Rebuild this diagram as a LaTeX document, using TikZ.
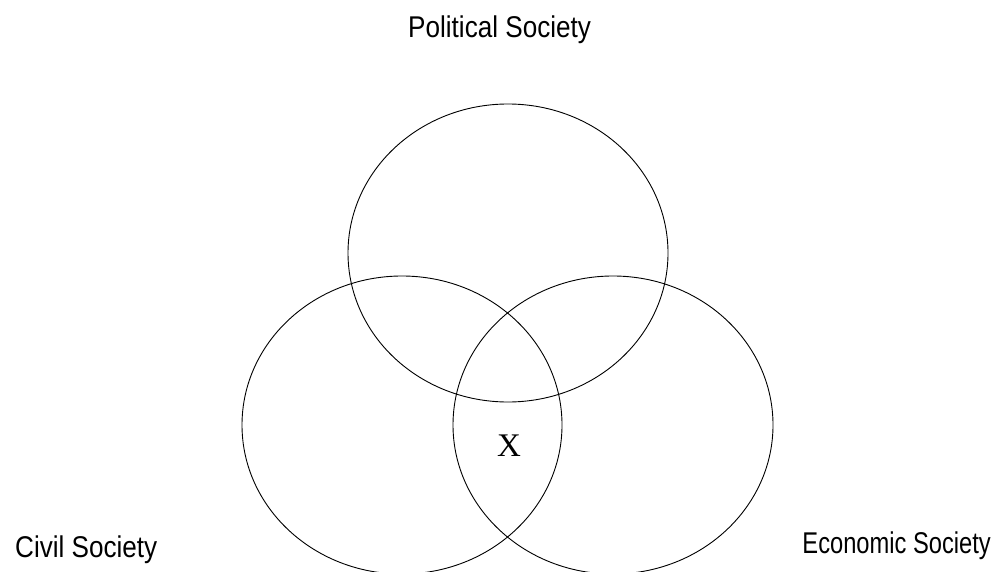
\documentclass[tikz,border=0pt]{standalone}
\usepackage{fontspec}
\setmainfont{Liberation Sans}
\newfontfamily\timesx{Liberation Serif}
\usetikzlibrary{positioning}

\newcommand{\narrow}[1]{\scalebox{0.87}[1]{#1}}
\tikzset{
  label text/.style={anchor=base west, inner sep=0pt, font=\fontsize{30}{30}\selectfont},
  set ring/.style={draw=black, line width=0.9pt}
}

\begin{document}
\begin{tikzpicture}[x=1pt,y=-1pt]
        % 1 px = 1 pt, y pointing down
        \useasboundingbox (0,0) rectangle (1000,572);

        \coordinate (P) at (508,253);
        \coordinate (C) at (402,425);
        \coordinate (E) at (613,425);

        \draw[set ring] (P) ellipse [x radius=160, y radius=149];
        \draw[set ring] (C) ellipse [x radius=160, y radius=149];
        \draw[set ring] (E) ellipse [x radius=160, y radius=149];

        \node[label text] (pol) at (408,38) {\narrow{Political Society}};
        \node[label text] (civ) at (15,557) {\narrow{Civil Society}};
        \node[label text, anchor=base east] (eco) at (991,553) {\scalebox{0.79}[1]{Economic Society}};

        \node[anchor=base, inner sep=0pt, font=\timesx\fontsize{33}{33}\selectfont] (x) at (509,456) {X};
    \end{tikzpicture}
\end{document}
